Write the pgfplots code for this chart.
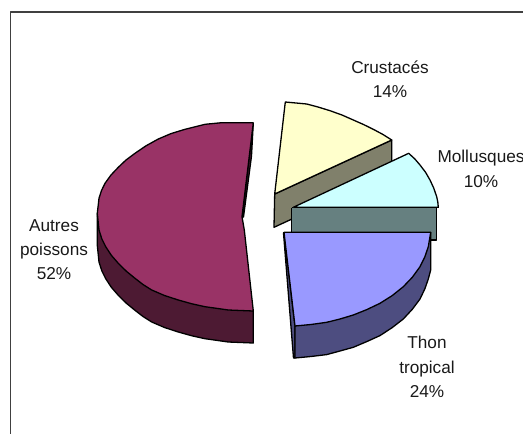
\documentclass[border=0pt]{standalone}
\usepackage{fontspec}
\setmainfont{Liberation Sans}
\usepackage{pgfplots}
\pgfplotsset{compat=1.18}
\definecolor{autres}{HTML}{993366}
\definecolor{autresd}{HTML}{4D1A33}
\definecolor{crust}{HTML}{FFFFCC}
\definecolor{crustd}{HTML}{80806B}
\definecolor{moll}{HTML}{CCFFFF}
\definecolor{molld}{HTML}{668080}
\definecolor{thon}{HTML}{9999FF}
\definecolor{thond}{HTML}{4D4D80}
\tikzset{lab/.style={align=center,text=black!90,font=\fontsize{17.2}{24.3}\selectfont}}
\begin{document}
\begin{tikzpicture}[x=1pt,y=1pt]
\path[use as bounding box] (0,0) rectangle (523,434);
\begin{axis}[
    at={(0,0)},anchor=south west,
    width=523pt,height=434pt,scale only axis,
    xmin=0,xmax=523,ymin=0,ymax=434,
    y dir=reverse,
    axis lines=none,
    clip=true,
    every axis plot/.append style={line width=1.3pt,line join=round},
    ]
% cadre
\addplot[draw=black!75,line width=1.5pt] coordinates {(10.5,434)(10.5,12)(523,12)};
% Autres poissons
\addplot[fill=autresd,draw=black] coordinates {(97.3,213.3)(97.3,245.3)(99,262)(101.8,270.8)(105.7,278.7)(111.5,287.5)(118.3,295.3)(126.3,303.2)(135,310.3)(143,316.5)(151.7,322)(164.5,327.5)(178.3,332)(191.5,335.7)(205,338.7)(228.3,342)(253.3,343)(253.3,311)(97.3,213.3)};
\addplot[fill=autresd,draw=black] coordinates {(253.3,122.7)(251.5,156)(243.5,217)(242,216.7)(253.3,122.7)};
\addplot[fill=autres,draw=black] coordinates {(253.3,122.7)(221.7,122.7)(205,124.3)(185,129.3)(171,133.6)(158.3,139)(146,145.8)(135,153.3)(126,160)(118.3,167.3)(111,175)(105,183.3)(101.5,190.5)(99,198.3)(97.3,213.3)(99,230)(101.8,238.8)(105.7,246.7)(111.5,255.5)(118.3,263.3)(126.3,271.2)(135,278.3)(143,284.5)(151.7,290)(164.5,295.5)(178.3,300)(191.5,303.7)(205,306.7)(228.3,310)(253.3,311)(244.3,230)(242,216.7)(253.3,122.7)};
% Crustaces
\addplot[fill=crustd,draw=black] coordinates {(274.7,194)(274,227.3)(391.7,173)(391.7,140)(274.7,194)};
\addplot[fill=crust,draw=black] coordinates {(274.7,194)(285.3,102)(306.7,104)(318,107)(330,110.7)(342,115)(353.3,120)(363.5,124.5)(373.3,129.3)(383,134.5)(391.7,140)(274.7,194)};
% Mollusques
\addplot[fill=molld,draw=black] coordinates {(291.7,207.5)(291.7,240)(436.7,240)(436.7,207.5)(291.7,207.5)};
\addplot[fill=moll,draw=black] coordinates {(293.3,207.3)(408.7,153.3)(414.7,158.8)(420,165)(425.5,172.2)(430,180)(433.7,188)(436.7,196.7)(437.8,202)(438.3,207.3)(293.3,207.3)};
% Thon tropical
\addplot[fill=thond,draw=black] coordinates {(284,232.3)(295,326)(295,358)(293.5,358)(283.5,233)(284,232.3)};
\addplot[fill=thond,draw=black] coordinates {(430.7,232.3)(430.7,270)(428.3,279)(424.8,289)(420,299)(412.3,309.3)(403.3,319)(392.2,327.6)(380,335.6)(367,341.5)(353.3,347.3)(340,351)(326.7,354.6)(311,356.5)(295,358)(295,326)(430.7,232.3)};
\addplot[fill=thon,draw=black] coordinates {(284,232.3)(430.7,232.3)(428.3,246.7)(424.8,257)(420,266.7)(412.3,277.3)(403.3,286.7)(392.2,295.6)(380,303.3)(367,309.5)(353.3,315)(340,319)(326.7,322.3)(311,324.5)(295,326)(284,232.3)};
% etiquettes
\node[lab] at (axis cs:390,79.5) {Crustacés\\14\%};
\node[lab] at (axis cs:481,169) {Mollusques\\10\%};
\node[lab] at (axis cs:54,249.5) {Autres\\poissons\\52\%};
\node[lab] at (axis cs:427,367) {Thon\\tropical\\24\%};
\end{axis}
\end{tikzpicture}
\end{document}
